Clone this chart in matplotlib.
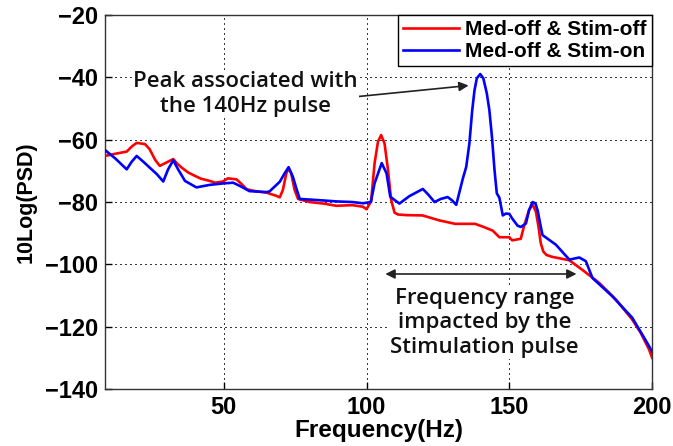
"""
Med-off 상태에서 자극 on/off PSD 비교 차트.
"""
import matplotlib.pyplot as plt

# Med-off & Stim-off (red)
freq_off = [8.4, 12, 16, 18, 19.5, 22.4, 24, 26, 27.6, 29.5, 31, 32.3, 33.5, 35.2,
            37.5, 39.9, 42, 45, 47, 49.7, 51.4, 54.4, 56, 58, 61, 65, 68.4, 69.6,
            70.7, 71.9, 72.7, 73.6, 74.8, 76, 80, 85, 89.4, 95, 98.7, 100, 101.6,
            102.8, 104, 105.1, 106.3, 107.5, 108.6, 109.8, 111, 113.9, 119.6, 125.5,
            131, 138, 141, 144.2, 146.5, 150, 151, 154, 155.2, 156.9, 158.1, 159.3,
            160.2, 161, 161.9, 163, 165, 171, 175.6, 181.5, 187.3, 193, 196, 198.9,
            200]
psd_off = [-65.2, -64.5, -63.8, -62, -61, -61.4, -63, -66.5, -68.4, -67.5, -66.8,
           -66.2, -67.5, -68.9, -70.5, -71.6, -72.5, -73.2, -73.8, -73.4, -72.4,
           -72.7, -74, -75.9, -76.5, -77, -78, -78.5, -76.1, -70.8, -69.2, -70.8,
           -76.1, -79, -80, -80.5, -81.2, -81, -81.5, -82.3, -79.7, -67.6, -60.6,
           -58.5, -61.2, -69.7, -79.3, -83.4, -84, -84.2, -84.3, -85.9, -87, -87,
           -88, -89.2, -91.3, -91.3, -92.3, -91.8, -87.5, -82.6, -80.8, -83.1,
           -87.9, -93.2, -95.9, -97, -97.6, -98.7, -101.8, -106, -111.3, -117.7,
           -122, -127.3, -130]

# Med-off & Stim-on (blue)
freq_on = [8.4, 12, 16, 17.8, 19.5, 22, 24, 26.5, 28.8, 30.5, 32.3, 34, 36.4, 40.4,
           45, 50, 53.3, 56, 59, 65, 66, 69.6, 71.3, 72.7, 74.2, 75.4, 76.6, 80, 85,
           89.4, 95, 98.7, 101.5, 102.8, 105.3, 107, 108.3, 111.5, 115, 119.7,
           121.5, 123.8, 126, 128.4, 130, 131.4, 133.7, 134.9, 136, 137, 137.8,
           138.6, 139.8, 140.9, 142.1, 143, 143.9, 144.8, 145.6, 146.5, 147.7,
           148.8, 150, 151, 152.9, 154, 155.8, 156.9, 158.1, 159.1, 159.9, 161,
           161.6, 166.3, 171, 174.5, 176.8, 179.1, 186, 193, 197.8, 200]
psd_on = [-63.3, -66, -69.5, -67, -65.2, -67.2, -68.9, -71, -73.4, -69.5, -66.6,
          -69.5, -73.2, -75.3, -74.5, -74, -73.8, -75, -76.5, -76.8, -76.6, -73.5,
          -70.8, -68.8, -71.9, -75.6, -79, -79.2, -79.5, -79.8, -80, -80.4, -80,
          -74, -67.5, -70.8, -78.3, -80.5, -78.1, -75.8, -77.5, -80, -79, -78.4,
          -79.5, -80.9, -72.5, -68.7, -61.2, -50.5, -44.1, -40.3, -38.9, -40.3,
          -45.1, -50.5, -59, -69.7, -77.2, -78.6, -84.3, -83.7, -83.8, -85.3,
          -87.6, -88, -86.9, -82.6, -80, -80.4, -82.7, -87.9, -90.6, -93.7, -98.5,
          -97.8, -99, -104.4, -110.2, -117.1, -124.5, -128]

x_ticks = [50, 100, 150, 200]
y_ticks = [-140, -120, -100, -80, -60, -40, -20]

fig = plt.figure(figsize=(6.73, 4.46), dpi=100)
ax = fig.add_axes([0.156, 0.128, 0.813, 0.838])

# 점선 그리드 (MATLAB 스타일)
ax.grid(True, color='#3a3a3a', lw=1.0, ls=(0, (1, 2.6)), antialiased=False)
ax.set_axisbelow(True)

ax.plot(freq_off, psd_off, color='#ff0000', lw=1.9, label='Med-off & Stim-off',
        zorder=3)
ax.plot(freq_on, psd_on, color='#0000ff', lw=1.9, label='Med-off & Stim-on',
        zorder=3)

ax.set_xlim(8.4, 200)
ax.set_ylim(-140, -20)
ax.set_xticks(x_ticks)
ax.set_yticks(y_ticks)
ax.tick_params(direction='in', length=5, width=1, labelsize=17, pad=5)
for lab in ax.get_xticklabels() + ax.get_yticklabels():
    lab.set_fontweight('bold')
    lab.set_family('Liberation Sans')
for s in ax.spines.values():
    s.set_linewidth(1.0)
    s.set_color('#333333')

ax.set_xlabel('Frequency(Hz)', fontsize=17.5, fontweight='bold',
              family='Liberation Sans', labelpad=0)
ax.set_ylabel('10Log(PSD)', fontsize=15.5, fontweight='bold',
              family='Liberation Sans', labelpad=6)

leg = ax.legend(loc='upper right', prop={'family': 'Liberation Sans',
                'weight': 'bold', 'size': 15},
                fancybox=False, edgecolor='black', framealpha=1,
                borderaxespad=0, handlelength=2.7, borderpad=0.25,
                labelspacing=0.12, handletextpad=0.3)
leg.get_frame().set_linewidth(1.0)
leg.set_zorder(5)

box = dict(facecolor='white', edgecolor='none', pad=1)

ax.annotate('', xy=(136.7, -42.5), xytext=(95.1, -46.3),
            arrowprops=dict(arrowstyle='-|>', color='#222222', lw=1.2,
                            mutation_scale=14))
ax.text(57.7, -45.3, 'Peak associated with\nthe 140Hz pulse', ha='center',
        va='center', fontsize=16, family='Open Sans', fontweight='semibold',
        color='#111111', linespacing=1.25, bbox=box, zorder=4)

ax.annotate('', xy=(105.6, -103.1), xytext=(174.5, -103.1),
            arrowprops=dict(arrowstyle='<|-|>', color='#222222', lw=1.2,
                            mutation_scale=14))
ax.text(141.4, -118.8, 'Frequency range\nimpacted by the\nStimulation pulse',
        ha='center', va='center', fontsize=16, family='Open Sans',
        fontweight='semibold', color='#111111', linespacing=1.2, bbox=box,
        zorder=4)

plt.savefig('out.png', dpi=100)
plt.close()
